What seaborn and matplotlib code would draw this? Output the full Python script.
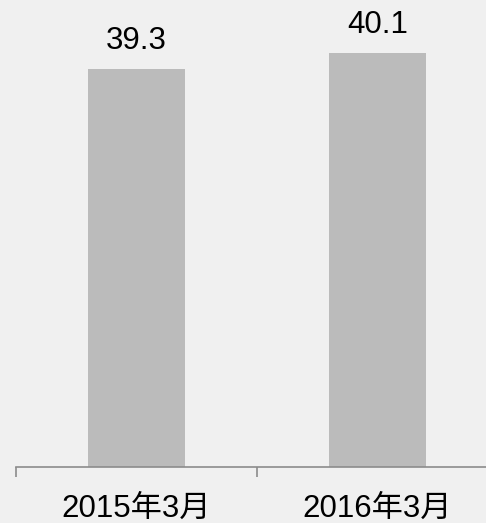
import matplotlib
matplotlib.use("Agg")
import matplotlib.pyplot as plt
import seaborn as sns
import pandas as pd

# Data
categories = ["2015年3月", "2016年3月"]
values = [39.3, 40.1]

df = pd.DataFrame({"period": categories, "value": values})

sns.set_style("white")
plt.rcParams["font.family"] = ["Liberation Sans", "Noto Sans CJK JP"]

W, H = 486, 523
fig = plt.figure(figsize=(W / 100, H / 100), dpi=100, facecolor="#F0F0F0")
ax = fig.add_axes([16 / W, 56 / H, 482 / W, 467 / H])
ax.set_facecolor("#F0F0F0")

sns.barplot(data=df, x="period", y="value", color="#BBBBBB", width=0.4,
            saturation=1, linewidth=0, edgecolor="none", ax=ax)

ax.set_xlim(-0.5, 1.5)
ax.set_ylim(20, 42.67)

# value labels above the bars
for i, v in enumerate(values):
    ax.text(i, v + 0.65, f"{v:.1f}", ha="center", va="bottom",
            fontsize=22.5, color="#000000")

for s in ["top", "right", "left"]:
    ax.spines[s].set_visible(False)
ax.spines["bottom"].set_color("#8C8C8C")
ax.spines["bottom"].set_linewidth(1.2)

ax.set_yticks([])
ax.set_xlabel("")
ax.set_ylabel("")
ax.tick_params(axis="x", which="major", bottom=True, length=0, pad=19,
               labelsize=22.5, labelcolor="#000000")
# category separators on the axis
ax.set_xticks([-0.5, 0.5, 1.5], minor=True)
ax.tick_params(axis="x", which="minor", bottom=True, length=7.5, width=1.2,
               color="#8C8C8C", direction="out")

fig.savefig("out.png", dpi=100, facecolor=fig.get_facecolor())
